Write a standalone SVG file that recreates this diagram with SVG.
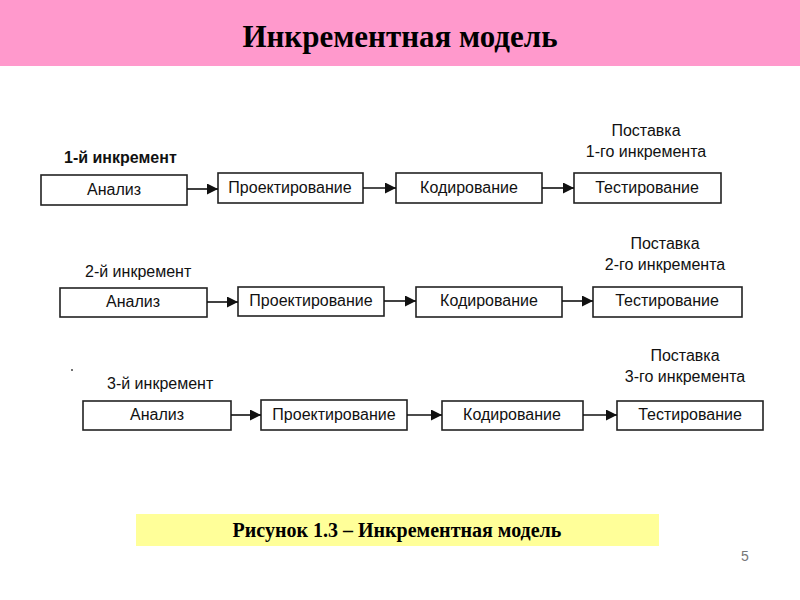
<svg xmlns="http://www.w3.org/2000/svg" width="800" height="600" viewBox="0 0 800 600">
<style>
.box{fill:#fff;stroke:#222;stroke-width:1.6}
.bt{font-family:"Liberation Sans",Arial,sans-serif;font-size:16px;fill:#111;text-anchor:middle}
.lbl{font-family:"Liberation Sans",Arial,sans-serif;font-size:16px;fill:#111}
.dl{font-family:"Liberation Sans",Arial,sans-serif;font-size:16px;fill:#111;text-anchor:middle}
.con{stroke:#111;stroke-width:1.6;fill:none;marker-end:url(#ah)}
</style>
<defs>
<marker id="ah" viewBox="0 0 10 10" refX="10" refY="5" markerWidth="11" markerHeight="11" markerUnits="userSpaceOnUse" orient="auto">
<path d="M0,0 L10,5 L0,10 z" fill="#111"/>
</marker>
</defs>
<rect width="800" height="600" fill="#fff"/>
<rect x="0" y="0" width="800" height="66" fill="#ff99cc"/>
<text x="400" y="47" text-anchor="middle" font-family="Liberation Serif,'Times New Roman',serif" font-weight="bold" font-size="31" fill="#000">Инкрементная модель</text>

<g id="row1">
<text class="lbl" x="64" y="163" font-weight="bold" font-size="15">1-й инкремент</text>
<text class="dl" x="646" y="136">Поставка</text>
<text class="dl" x="646" y="157">1-го инкремента</text>
</g>
<g id="n1a"><rect class="box" x="41" y="175" width="146" height="30"/><text class="bt" x="114" y="195">Анализ</text></g>
<g id="n1b"><rect class="box" x="218" y="173" width="145" height="30"/><text class="bt" x="290" y="193">Проектирование</text></g>
<g id="n1c"><rect class="box" x="396" y="173" width="146" height="30"/><text class="bt" x="469" y="193">Кодирование</text></g>
<g id="n1d"><rect class="box" x="574" y="173" width="147" height="30"/><text class="bt" x="647" y="193">Тестирование</text></g>

<g id="row2">
<text class="lbl" x="85" y="277">2-й инкремент</text>
<text class="dl" x="665" y="249">Поставка</text>
<text class="dl" x="665" y="270">2-го инкремента</text>
</g>
<g id="n2a"><rect class="box" x="60" y="288" width="147" height="29"/><text class="bt" x="133" y="307">Анализ</text></g>
<g id="n2b"><rect class="box" x="238" y="287" width="146" height="29"/><text class="bt" x="311" y="306">Проектирование</text></g>
<g id="n2c"><rect class="box" x="416" y="287" width="146" height="30"/><text class="bt" x="489" y="306">Кодирование</text></g>
<g id="n2d"><rect class="box" x="593" y="287" width="149" height="30"/><text class="bt" x="667" y="306">Тестирование</text></g>

<g id="row3">
<text class="lbl" x="107" y="389">3-й инкремент</text>
<text class="dl" x="685" y="361">Поставка</text>
<text class="dl" x="685" y="382">3-го инкремента</text>
<circle cx="72" cy="370" r="1" fill="#444"/>
</g>
<g id="n3a"><rect class="box" x="83" y="401" width="148" height="29"/><text class="bt" x="157" y="420">Анализ</text></g>
<g id="n3b"><rect class="box" x="261" y="400" width="146" height="30"/><text class="bt" x="334" y="420">Проектирование</text></g>
<g id="n3c"><rect class="box" x="442" y="401" width="141" height="29"/><text class="bt" x="512" y="420">Кодирование</text></g>
<g id="n3d"><rect class="box" x="617" y="401" width="146" height="29"/><text class="bt" x="690" y="420">Тестирование</text></g>

<g id="connectors">
<line class="con" x1="187" y1="189" x2="218" y2="189"/>
<line class="con" x1="363" y1="188" x2="396" y2="188"/>
<line class="con" x1="542" y1="188" x2="574" y2="188"/>
<line class="con" x1="207" y1="302" x2="238" y2="302"/>
<line class="con" x1="384" y1="301" x2="416" y2="301"/>
<line class="con" x1="562" y1="301" x2="593" y2="301"/>
<line class="con" x1="231" y1="415" x2="261" y2="415"/>
<line class="con" x1="407" y1="415" x2="442" y2="415"/>
<line class="con" x1="583" y1="415" x2="617" y2="415"/>
</g>

<rect x="136" y="514" width="523" height="32" fill="#ffff99"/>
<text x="397" y="537" text-anchor="middle" font-family="Liberation Serif,'Times New Roman',serif" font-weight="bold" font-size="20" fill="#000">Рисунок 1.3 – Инкрементная модель</text>
<text x="745" y="561" text-anchor="middle" font-family="Liberation Sans,Arial,sans-serif" font-size="14" fill="#777">5</text>
</svg>
